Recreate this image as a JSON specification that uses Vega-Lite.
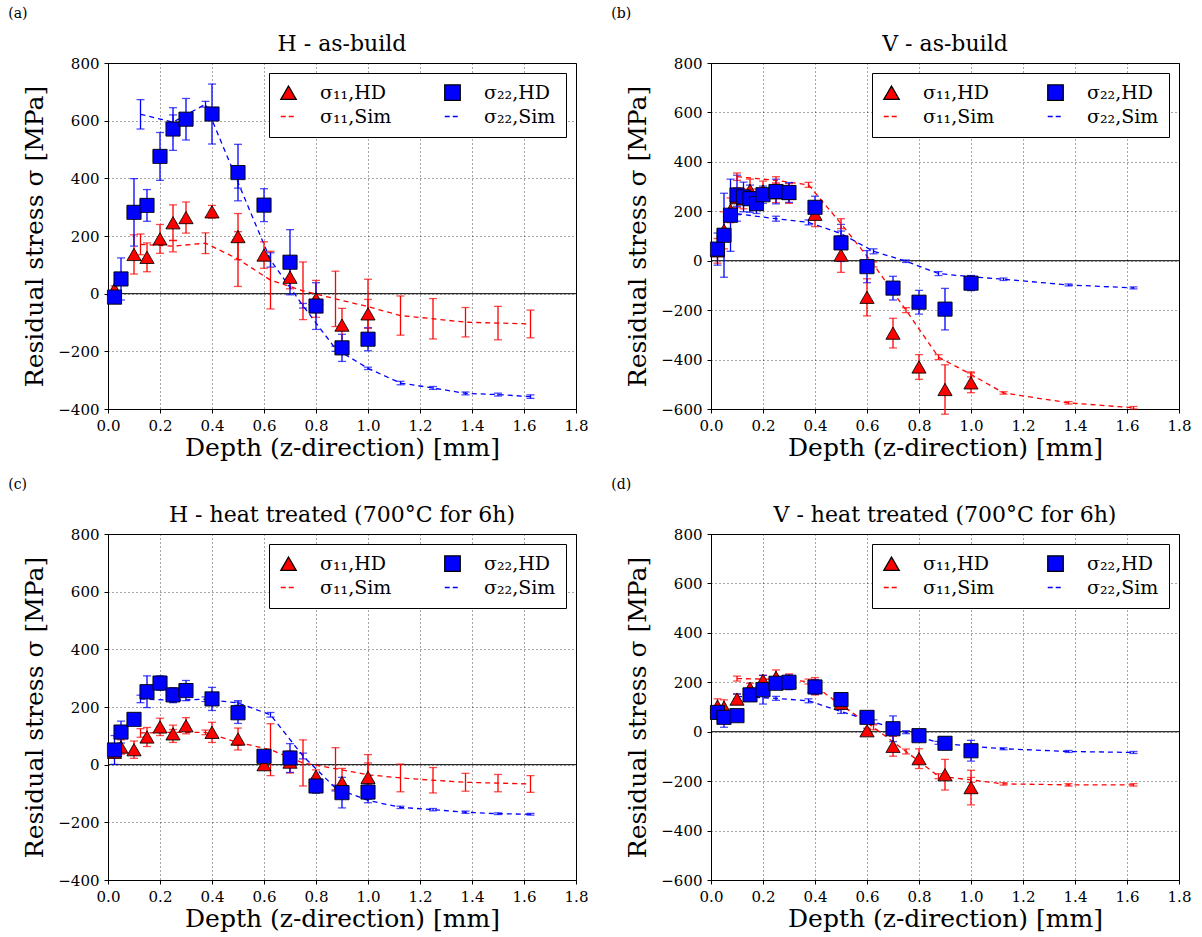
{
"$schema": "https://vega.github.io/schema/vega-lite/v6.json",
"background": "white",
"padding": {"left": 8, "top": 6, "right": 0, "bottom": 0},
"config": {
  "view": {"stroke": "black", "strokeWidth": 1},
  "font": "DejaVu Serif",
  "scale": {"continuousPadding": 0},
  "axis": {"labelFont": "DejaVu Serif", "labelFontSize": 15, "labelColor": "black", "labelFlush": false, "titleFont": "DejaVu Serif", "titleFontSize": 25, "titleFontWeight": "normal", "titleColor": "black", "domainColor": "black", "tickColor": "black", "tickSize": 4, "grid": true, "gridColor": "black", "gridOpacity": 0.7, "gridDash": [1, 3], "gridWidth": 1, "labelPadding": 5},
  "axisX": {"titlePadding": 2},
  "axisY": {"titlePadding": 10},
  "title": {"font": "DejaVu Serif", "fontSize": 22, "fontWeight": "normal", "color": "black"},
  "legend": {"labelFont": "DejaVu Serif", "labelFontSize": 19, "labelColor": "black", "symbolStrokeWidth": 1.3}
},
"resolve": {"scale": {"shape": "independent", "color": "independent", "fill": "independent", "stroke": "independent", "strokeDash": "independent"}, "legend": {"shape": "independent", "color": "independent", "fill": "independent", "stroke": "independent", "strokeDash": "independent"}},
"datasets": {
  "a": [
    {"s":"s11HD","x":0.025,"y":15,"e":12},{"s":"s11HD","x":0.1,"y":136,"e":68},{"s":"s11HD","x":0.15,"y":126,"e":50},{"s":"s11HD","x":0.2,"y":190,"e":50},{"s":"s11HD","x":0.25,"y":246,"e":62},{"s":"s11HD","x":0.3,"y":264,"e":54},{"s":"s11HD","x":0.4,"y":284,"e":22},{"s":"s11HD","x":0.5,"y":198,"e":80},{"s":"s11HD","x":0.6,"y":134,"e":46},{"s":"s11HD","x":0.7,"y":57,"e":40},{"s":"s11HD","x":0.8,"y":-18,"e":64},{"s":"s11HD","x":0.9,"y":-109,"e":58},{"s":"s11HD","x":1.0,"y":-70,"e":50},
    {"s":"s22HD","x":0.025,"y":-12,"e":15},{"s":"s22HD","x":0.05,"y":51,"e":73},{"s":"s22HD","x":0.1,"y":282,"e":117},{"s":"s22HD","x":0.15,"y":306,"e":55},{"s":"s22HD","x":0.2,"y":476,"e":83},{"s":"s22HD","x":0.25,"y":571,"e":74},{"s":"s22HD","x":0.3,"y":605,"e":72},{"s":"s22HD","x":0.4,"y":623,"e":104},{"s":"s22HD","x":0.5,"y":420,"e":98},{"s":"s22HD","x":0.6,"y":307,"e":57},{"s":"s22HD","x":0.7,"y":109,"e":113},{"s":"s22HD","x":0.8,"y":-43,"e":81},{"s":"s22HD","x":0.9,"y":-188,"e":47},{"s":"s22HD","x":1.0,"y":-158,"e":40},
    {"s":"s11Sim","x":0.125,"y":171,"e":36},{"s":"s11Sim","x":0.25,"y":165,"e":20},{"s":"s11Sim","x":0.375,"y":175,"e":36},{"s":"s11Sim","x":0.5,"y":120,"e":95},{"s":"s11Sim","x":0.625,"y":47,"e":100},{"s":"s11Sim","x":0.75,"y":10,"e":100},{"s":"s11Sim","x":0.875,"y":-18,"e":96},{"s":"s11Sim","x":1.0,"y":-45,"e":95},{"s":"s11Sim","x":1.125,"y":-76,"e":68},{"s":"s11Sim","x":1.25,"y":-87,"e":70},{"s":"s11Sim","x":1.375,"y":-99,"e":51},{"s":"s11Sim","x":1.5,"y":-102,"e":58},{"s":"s11Sim","x":1.625,"y":-105,"e":48},
    {"s":"s22Sim","x":0.125,"y":622,"e":51},{"s":"s22Sim","x":0.25,"y":595,"e":25},{"s":"s22Sim","x":0.375,"y":657,"e":10},{"s":"s22Sim","x":0.5,"y":386,"e":20},{"s":"s22Sim","x":0.625,"y":117,"e":25},{"s":"s22Sim","x":0.75,"y":-42,"e":8},{"s":"s22Sim","x":0.875,"y":-191,"e":9},{"s":"s22Sim","x":1.0,"y":-259,"e":4},{"s":"s22Sim","x":1.125,"y":-310,"e":6},{"s":"s22Sim","x":1.25,"y":-327,"e":5},{"s":"s22Sim","x":1.375,"y":-346,"e":5},{"s":"s22Sim","x":1.5,"y":-350,"e":5},{"s":"s22Sim","x":1.625,"y":-357,"e":6}
  ],
  "b": [
    {"s":"s11HD","x":0.025,"y":40,"e":50},{"s":"s11HD","x":0.05,"y":123,"e":75},{"s":"s11HD","x":0.075,"y":204,"e":50},{"s":"s11HD","x":0.1,"y":255,"e":40},{"s":"s11HD","x":0.125,"y":250,"e":40},{"s":"s11HD","x":0.15,"y":285,"e":45},{"s":"s11HD","x":0.175,"y":250,"e":40},{"s":"s11HD","x":0.2,"y":282,"e":40},{"s":"s11HD","x":0.25,"y":275,"e":40},{"s":"s11HD","x":0.3,"y":272,"e":40},{"s":"s11HD","x":0.4,"y":188,"e":50},{"s":"s11HD","x":0.5,"y":23,"e":70},{"s":"s11HD","x":0.6,"y":-148,"e":75},{"s":"s11HD","x":0.7,"y":-293,"e":60},{"s":"s11HD","x":0.8,"y":-430,"e":50},{"s":"s11HD","x":0.9,"y":-521,"e":100},{"s":"s11HD","x":1.0,"y":-494,"e":40},
    {"s":"s22HD","x":0.025,"y":47,"e":65},{"s":"s22HD","x":0.05,"y":103,"e":170},{"s":"s22HD","x":0.075,"y":184,"e":146},{"s":"s22HD","x":0.1,"y":266,"e":80},{"s":"s22HD","x":0.125,"y":258,"e":60},{"s":"s22HD","x":0.15,"y":251,"e":55},{"s":"s22HD","x":0.175,"y":231,"e":40},{"s":"s22HD","x":0.2,"y":267,"e":35},{"s":"s22HD","x":0.25,"y":280,"e":50},{"s":"s22HD","x":0.3,"y":276,"e":40},{"s":"s22HD","x":0.4,"y":216,"e":45},{"s":"s22HD","x":0.5,"y":72,"e":75},{"s":"s22HD","x":0.6,"y":-24,"e":65},{"s":"s22HD","x":0.7,"y":-111,"e":48},{"s":"s22HD","x":0.8,"y":-168,"e":48},{"s":"s22HD","x":0.9,"y":-196,"e":84},{"s":"s22HD","x":1.0,"y":-91,"e":30},
    {"s":"s11Sim","x":0.1,"y":340,"e":15},{"s":"s11Sim","x":0.25,"y":325,"e":15},{"s":"s11Sim","x":0.375,"y":307,"e":10},{"s":"s11Sim","x":0.5,"y":150,"e":20},{"s":"s11Sim","x":0.625,"y":-15,"e":10},{"s":"s11Sim","x":0.75,"y":-200,"e":10},{"s":"s11Sim","x":0.875,"y":-390,"e":10},{"s":"s11Sim","x":1.0,"y":-460,"e":10},{"s":"s11Sim","x":1.125,"y":-535,"e":5},{"s":"s11Sim","x":1.375,"y":-575,"e":5},{"s":"s11Sim","x":1.625,"y":-595,"e":5},
    {"s":"s22Sim","x":0.1,"y":190,"e":30},{"s":"s22Sim","x":0.25,"y":170,"e":10},{"s":"s22Sim","x":0.375,"y":155,"e":10},{"s":"s22Sim","x":0.5,"y":110,"e":10},{"s":"s22Sim","x":0.625,"y":38,"e":10},{"s":"s22Sim","x":0.75,"y":-2,"e":5},{"s":"s22Sim","x":0.875,"y":-52,"e":8},{"s":"s22Sim","x":1.0,"y":-65,"e":5},{"s":"s22Sim","x":1.125,"y":-75,"e":5},{"s":"s22Sim","x":1.375,"y":-98,"e":4},{"s":"s22Sim","x":1.625,"y":-110,"e":4}
  ],
  "c": [
    {"s":"s11HD","x":0.025,"y":43,"e":20},{"s":"s11HD","x":0.05,"y":61,"e":25},{"s":"s11HD","x":0.1,"y":52,"e":30},{"s":"s11HD","x":0.15,"y":96,"e":33},{"s":"s11HD","x":0.2,"y":131,"e":30},{"s":"s11HD","x":0.25,"y":107,"e":30},{"s":"s11HD","x":0.3,"y":135,"e":28},{"s":"s11HD","x":0.4,"y":112,"e":35},{"s":"s11HD","x":0.5,"y":89,"e":38},{"s":"s11HD","x":0.6,"y":0,"e":15},{"s":"s11HD","x":0.7,"y":9,"e":38},{"s":"s11HD","x":0.8,"y":-40,"e":22},{"s":"s11HD","x":0.9,"y":-62,"e":49},{"s":"s11HD","x":1.0,"y":-44,"e":50},
    {"s":"s22HD","x":0.025,"y":51,"e":50},{"s":"s22HD","x":0.05,"y":113,"e":38},{"s":"s22HD","x":0.1,"y":157,"e":12},{"s":"s22HD","x":0.15,"y":253,"e":55},{"s":"s22HD","x":0.2,"y":283,"e":25},{"s":"s22HD","x":0.25,"y":242,"e":25},{"s":"s22HD","x":0.3,"y":257,"e":35},{"s":"s22HD","x":0.4,"y":228,"e":40},{"s":"s22HD","x":0.5,"y":180,"e":37},{"s":"s22HD","x":0.6,"y":29,"e":15},{"s":"s22HD","x":0.7,"y":23,"e":50},{"s":"s22HD","x":0.8,"y":-74,"e":25},{"s":"s22HD","x":0.9,"y":-97,"e":53},{"s":"s22HD","x":1.0,"y":-95,"e":25},
    {"s":"s11Sim","x":0.125,"y":110,"e":15},{"s":"s11Sim","x":0.25,"y":112,"e":10},{"s":"s11Sim","x":0.375,"y":112,"e":8},{"s":"s11Sim","x":0.5,"y":77,"e":10},{"s":"s11Sim","x":0.625,"y":52,"e":90},{"s":"s11Sim","x":0.75,"y":6,"e":80},{"s":"s11Sim","x":0.875,"y":-14,"e":73},{"s":"s11Sim","x":1.0,"y":-35,"e":70},{"s":"s11Sim","x":1.125,"y":-46,"e":48},{"s":"s11Sim","x":1.25,"y":-54,"e":44},{"s":"s11Sim","x":1.375,"y":-61,"e":31},{"s":"s11Sim","x":1.5,"y":-64,"e":30},{"s":"s11Sim","x":1.625,"y":-67,"e":29},
    {"s":"s22Sim","x":0.125,"y":228,"e":13},{"s":"s22Sim","x":0.25,"y":223,"e":8},{"s":"s22Sim","x":0.375,"y":227,"e":8},{"s":"s22Sim","x":0.5,"y":214,"e":8},{"s":"s22Sim","x":0.625,"y":173,"e":8},{"s":"s22Sim","x":0.75,"y":30,"e":10},{"s":"s22Sim","x":0.875,"y":-81,"e":10},{"s":"s22Sim","x":1.0,"y":-124,"e":8},{"s":"s22Sim","x":1.125,"y":-148,"e":4},{"s":"s22Sim","x":1.25,"y":-156,"e":4},{"s":"s22Sim","x":1.375,"y":-165,"e":4},{"s":"s22Sim","x":1.5,"y":-170,"e":3},{"s":"s22Sim","x":1.625,"y":-172,"e":3}
  ],
  "d": [
    {"s":"s11HD","x":0.025,"y":103,"e":30},{"s":"s11HD","x":0.05,"y":99,"e":30},{"s":"s11HD","x":0.1,"y":132,"e":20},{"s":"s11HD","x":0.15,"y":176,"e":20},{"s":"s11HD","x":0.2,"y":208,"e":20},{"s":"s11HD","x":0.25,"y":220,"e":30},{"s":"s11HD","x":0.3,"y":204,"e":30},{"s":"s11HD","x":0.4,"y":184,"e":35},{"s":"s11HD","x":0.5,"y":115,"e":20},{"s":"s11HD","x":0.6,"y":4,"e":10},{"s":"s11HD","x":0.7,"y":-59,"e":40},{"s":"s11HD","x":0.8,"y":-109,"e":40},{"s":"s11HD","x":0.9,"y":-174,"e":62},{"s":"s11HD","x":1.0,"y":-226,"e":70},
    {"s":"s22HD","x":0.025,"y":78,"e":25},{"s":"s22HD","x":0.05,"y":58,"e":40},{"s":"s22HD","x":0.1,"y":65,"e":15},{"s":"s22HD","x":0.15,"y":149,"e":20},{"s":"s22HD","x":0.2,"y":170,"e":58},{"s":"s22HD","x":0.25,"y":196,"e":20},{"s":"s22HD","x":0.3,"y":200,"e":30},{"s":"s22HD","x":0.4,"y":181,"e":30},{"s":"s22HD","x":0.5,"y":130,"e":25},{"s":"s22HD","x":0.6,"y":58,"e":10},{"s":"s22HD","x":0.7,"y":12,"e":52},{"s":"s22HD","x":0.8,"y":-16,"e":8},{"s":"s22HD","x":0.9,"y":-47,"e":25},{"s":"s22HD","x":1.0,"y":-77,"e":42},
    {"s":"s11Sim","x":0.1,"y":215,"e":10},{"s":"s11Sim","x":0.25,"y":212,"e":10},{"s":"s11Sim","x":0.375,"y":203,"e":10},{"s":"s11Sim","x":0.5,"y":108,"e":10},{"s":"s11Sim","x":0.625,"y":18,"e":10},{"s":"s11Sim","x":0.75,"y":-80,"e":10},{"s":"s11Sim","x":0.875,"y":-180,"e":10},{"s":"s11Sim","x":1.0,"y":-195,"e":10},{"s":"s11Sim","x":1.125,"y":-211,"e":5},{"s":"s11Sim","x":1.375,"y":-215,"e":5},{"s":"s11Sim","x":1.625,"y":-215,"e":5},
    {"s":"s22Sim","x":0.1,"y":143,"e":10},{"s":"s22Sim","x":0.25,"y":135,"e":8},{"s":"s22Sim","x":0.375,"y":125,"e":8},{"s":"s22Sim","x":0.5,"y":82,"e":8},{"s":"s22Sim","x":0.625,"y":40,"e":8},{"s":"s22Sim","x":0.75,"y":-2,"e":6},{"s":"s22Sim","x":0.875,"y":-45,"e":6},{"s":"s22Sim","x":1.0,"y":-59,"e":5},{"s":"s22Sim","x":1.125,"y":-69,"e":4},{"s":"s22Sim","x":1.375,"y":-80,"e":4},{"s":"s22Sim","x":1.625,"y":-84,"e":4}
  ]
},
"vconcat": [
 {"resolve": {"scale": {"shape": "independent", "color": "independent", "fill": "independent", "stroke": "independent", "strokeDash": "independent"}, "legend": {"shape": "independent", "color": "independent", "fill": "independent", "stroke": "independent", "strokeDash": "independent"}},
  "hconcat": [
  {"title": {"text": "(a)", "anchor": "start", "fontSize": 14, "dx": -14, "offset": 12},
   "resolve": {"scale": {"shape": "independent", "color": "independent", "fill": "independent", "stroke": "independent", "strokeDash": "independent"}, "legend": {"shape": "independent", "color": "independent", "fill": "independent", "stroke": "independent", "strokeDash": "independent"}},
   "vconcat": [{
    "title": {"text": "H - as-build", "frame": "group", "offset": 0},
    "width": 468, "height": 346,
    "data": {"name": "a"},
    "layer": [
     {"data": {"values": [{"z": 0}]}, "mark": {"type": "rule", "color": "black", "strokeWidth": 1}, "encoding": {"y": {"datum": 0, "type": "quantitative", "scale": {"domain": [-400, 800], "nice": false, "zero": false, "padding": 0}, "axis": {"title": "Residual stress σ [MPa]", "values": [-400,-200,0,200,400,600,800], "grid": true}}}},
     {"transform": [{"filter": "indexof(datum.s,'Sim')>=0"}], "mark": {"type": "line", "strokeDash": [5, 4], "strokeWidth": 1.3},
      "encoding": {"x": {"field": "x", "type": "quantitative", "scale": {"domain": [0, 1.8], "nice": false, "zero": false, "padding": 0}, "axis": {"title": "Depth (z-direction) [mm]", "values": [0,0.2,0.4,0.6,0.8,1,1.2,1.4,1.6,1.8], "format": ".1f", "grid": true, "labelFlush": false}},
       "y": {"field": "y", "type": "quantitative", "scale": {"domain": [-400, 800], "nice": false, "zero": false, "padding": 0}, "axis": {"title": "Residual stress σ [MPa]", "values": [-400,-200,0,200,400,600,800], "grid": true}},
       "color": {"field": "s", "type": "nominal", "scale": {"domain": ["s11HD","s22HD","s11Sim","s22Sim"], "range": ["#ff0000","#0000ff","#ff0000","#0000ff"]}, "legend": null}}},
     {"mark": {"type": "errorbar", "ticks": {"size": 8, "thickness": 1.3}, "thickness": 1.3},
      "encoding": {"x": {"field": "x", "type": "quantitative", "title": "Depth (z-direction) [mm]", "scale": {"domain": [0, 1.8], "nice": false, "zero": false, "padding": 0}},
       "y": {"field": "y", "type": "quantitative", "title": "Residual stress σ [MPa]"},
       "yError": {"field": "e"},
       "color": {"field": "s", "type": "nominal", "legend": null}}},
     {"transform": [{"filter": "indexof(datum.s,'HD')>=0"}], "mark": {"type": "point", "filled": true, "opacity": 1, "strokeWidth": 1, "size": 200},
      "encoding": {"x": {"field": "x", "type": "quantitative", "scale": {"domain": [0, 1.8], "nice": false, "zero": false, "padding": 0}}, "y": {"field": "y", "type": "quantitative"},
       "fill": {"field": "s", "type": "nominal", "scale": {"domain": ["s11HD","s11Sim","s22HD","s22Sim"], "range": ["#ff0000","transparent","#0000ff","transparent"]}, "legend": {"title": null, "orient": "top-right"}},
       "stroke": {"field": "s", "type": "nominal", "scale": {"domain": ["s11HD","s11Sim","s22HD","s22Sim"], "range": ["#000000","#ff0000","#000000","#0000ff"]}, "legend": {"title": null, "orient": "top-right"}},
       "strokeDash": {"field": "s", "type": "nominal", "scale": {"domain": ["s11HD","s11Sim","s22HD","s22Sim"], "range": [[1,0],[5,3],[1,0],[5,3]]}, "legend": {"title": null, "orient": "top-right"}},
       "shape": {"field": "s", "type": "nominal", "scale": {"domain": ["s11HD","s11Sim","s22HD","s22Sim"], "range": ["triangle-up","stroke","square","stroke"]}, "legend": {"title": null, "orient": "top-right", "offset": 10, "columns": 2, "fillColor": "white", "strokeColor": "black", "padding": 10, "labelOffset": 22, "columnPadding": 50, "rowPadding": 4, "symbolSize": 240, "labelExpr": "datum.label=='s11HD'?'σ₁₁,HD':datum.label=='s22HD'?'σ₂₂,HD':datum.label=='s11Sim'?'σ₁₁,Sim':'σ₂₂,Sim'"}}}}
    ]
   }]
  },
  {"title": {"text": "(b)", "anchor": "start", "fontSize": 14, "dx": -14, "offset": 12},
   "resolve": {"scale": {"shape": "independent", "color": "independent", "fill": "independent", "stroke": "independent", "strokeDash": "independent"}, "legend": {"shape": "independent", "color": "independent", "fill": "independent", "stroke": "independent", "strokeDash": "independent"}},
   "vconcat": [{
    "title": {"text": "V - as-build", "frame": "group", "offset": 0},
    "width": 468, "height": 346,
    "data": {"name": "b"},
    "layer": [
     {"data": {"values": [{"z": 0}]}, "mark": {"type": "rule", "color": "black", "strokeWidth": 1}, "encoding": {"y": {"datum": 0, "type": "quantitative", "scale": {"domain": [-600, 800], "nice": false, "zero": false, "padding": 0}, "axis": {"title": "Residual stress σ [MPa]", "values": [-600,-400,-200,0,200,400,600,800], "grid": true}}}},
     {"transform": [{"filter": "indexof(datum.s,'Sim')>=0"}], "mark": {"type": "line", "strokeDash": [5, 4], "strokeWidth": 1.3},
      "encoding": {"x": {"field": "x", "type": "quantitative", "scale": {"domain": [0, 1.8], "nice": false, "zero": false, "padding": 0}, "axis": {"title": "Depth (z-direction) [mm]", "values": [0,0.2,0.4,0.6,0.8,1,1.2,1.4,1.6,1.8], "format": ".1f", "grid": true, "labelFlush": false}},
       "y": {"field": "y", "type": "quantitative", "scale": {"domain": [-600, 800], "nice": false, "zero": false, "padding": 0}, "axis": {"title": "Residual stress σ [MPa]", "values": [-600,-400,-200,0,200,400,600,800], "grid": true}},
       "color": {"field": "s", "type": "nominal", "scale": {"domain": ["s11HD","s22HD","s11Sim","s22Sim"], "range": ["#ff0000","#0000ff","#ff0000","#0000ff"]}, "legend": null}}},
     {"mark": {"type": "errorbar", "ticks": {"size": 8, "thickness": 1.3}, "thickness": 1.3},
      "encoding": {"x": {"field": "x", "type": "quantitative", "title": "Depth (z-direction) [mm]", "scale": {"domain": [0, 1.8], "nice": false, "zero": false, "padding": 0}},
       "y": {"field": "y", "type": "quantitative", "title": "Residual stress σ [MPa]"},
       "yError": {"field": "e"},
       "color": {"field": "s", "type": "nominal", "legend": null}}},
     {"transform": [{"filter": "indexof(datum.s,'HD')>=0"}], "mark": {"type": "point", "filled": true, "opacity": 1, "strokeWidth": 1, "size": 200},
      "encoding": {"x": {"field": "x", "type": "quantitative", "scale": {"domain": [0, 1.8], "nice": false, "zero": false, "padding": 0}}, "y": {"field": "y", "type": "quantitative"},
       "fill": {"field": "s", "type": "nominal", "scale": {"domain": ["s11HD","s11Sim","s22HD","s22Sim"], "range": ["#ff0000","transparent","#0000ff","transparent"]}, "legend": {"title": null, "orient": "top-right"}},
       "stroke": {"field": "s", "type": "nominal", "scale": {"domain": ["s11HD","s11Sim","s22HD","s22Sim"], "range": ["#000000","#ff0000","#000000","#0000ff"]}, "legend": {"title": null, "orient": "top-right"}},
       "strokeDash": {"field": "s", "type": "nominal", "scale": {"domain": ["s11HD","s11Sim","s22HD","s22Sim"], "range": [[1,0],[5,3],[1,0],[5,3]]}, "legend": {"title": null, "orient": "top-right"}},
       "shape": {"field": "s", "type": "nominal", "scale": {"domain": ["s11HD","s11Sim","s22HD","s22Sim"], "range": ["triangle-up","stroke","square","stroke"]}, "legend": {"title": null, "orient": "top-right", "offset": 10, "columns": 2, "fillColor": "white", "strokeColor": "black", "padding": 10, "labelOffset": 22, "columnPadding": 50, "rowPadding": 4, "symbolSize": 240, "labelExpr": "datum.label=='s11HD'?'σ₁₁,HD':datum.label=='s22HD'?'σ₂₂,HD':datum.label=='s11Sim'?'σ₁₁,Sim':'σ₂₂,Sim'"}}}}
    ]
   }]
  }
 ], "spacing": 22},
 {"resolve": {"scale": {"shape": "independent", "color": "independent", "fill": "independent", "stroke": "independent", "strokeDash": "independent"}, "legend": {"shape": "independent", "color": "independent", "fill": "independent", "stroke": "independent", "strokeDash": "independent"}},
  "hconcat": [
  {"title": {"text": "(c)", "anchor": "start", "fontSize": 14, "dx": -14, "offset": 12},
   "resolve": {"scale": {"shape": "independent", "color": "independent", "fill": "independent", "stroke": "independent", "strokeDash": "independent"}, "legend": {"shape": "independent", "color": "independent", "fill": "independent", "stroke": "independent", "strokeDash": "independent"}},
   "vconcat": [{
    "title": {"text": "H - heat treated (700°C for 6h)", "frame": "group", "offset": 0},
    "width": 468, "height": 346,
    "data": {"name": "c"},
    "layer": [
     {"data": {"values": [{"z": 0}]}, "mark": {"type": "rule", "color": "black", "strokeWidth": 1}, "encoding": {"y": {"datum": 0, "type": "quantitative", "scale": {"domain": [-400, 800], "nice": false, "zero": false, "padding": 0}, "axis": {"title": "Residual stress σ [MPa]", "values": [-400,-200,0,200,400,600,800], "grid": true}}}},
     {"transform": [{"filter": "indexof(datum.s,'Sim')>=0"}], "mark": {"type": "line", "strokeDash": [5, 4], "strokeWidth": 1.3},
      "encoding": {"x": {"field": "x", "type": "quantitative", "scale": {"domain": [0, 1.8], "nice": false, "zero": false, "padding": 0}, "axis": {"title": "Depth (z-direction) [mm]", "values": [0,0.2,0.4,0.6,0.8,1,1.2,1.4,1.6,1.8], "format": ".1f", "grid": true, "labelFlush": false}},
       "y": {"field": "y", "type": "quantitative", "scale": {"domain": [-400, 800], "nice": false, "zero": false, "padding": 0}, "axis": {"title": "Residual stress σ [MPa]", "values": [-400,-200,0,200,400,600,800], "grid": true}},
       "color": {"field": "s", "type": "nominal", "scale": {"domain": ["s11HD","s22HD","s11Sim","s22Sim"], "range": ["#ff0000","#0000ff","#ff0000","#0000ff"]}, "legend": null}}},
     {"mark": {"type": "errorbar", "ticks": {"size": 8, "thickness": 1.3}, "thickness": 1.3},
      "encoding": {"x": {"field": "x", "type": "quantitative", "title": "Depth (z-direction) [mm]", "scale": {"domain": [0, 1.8], "nice": false, "zero": false, "padding": 0}},
       "y": {"field": "y", "type": "quantitative", "title": "Residual stress σ [MPa]"},
       "yError": {"field": "e"},
       "color": {"field": "s", "type": "nominal", "legend": null}}},
     {"transform": [{"filter": "indexof(datum.s,'HD')>=0"}], "mark": {"type": "point", "filled": true, "opacity": 1, "strokeWidth": 1, "size": 200},
      "encoding": {"x": {"field": "x", "type": "quantitative", "scale": {"domain": [0, 1.8], "nice": false, "zero": false, "padding": 0}}, "y": {"field": "y", "type": "quantitative"},
       "fill": {"field": "s", "type": "nominal", "scale": {"domain": ["s11HD","s11Sim","s22HD","s22Sim"], "range": ["#ff0000","transparent","#0000ff","transparent"]}, "legend": {"title": null, "orient": "top-right"}},
       "stroke": {"field": "s", "type": "nominal", "scale": {"domain": ["s11HD","s11Sim","s22HD","s22Sim"], "range": ["#000000","#ff0000","#000000","#0000ff"]}, "legend": {"title": null, "orient": "top-right"}},
       "strokeDash": {"field": "s", "type": "nominal", "scale": {"domain": ["s11HD","s11Sim","s22HD","s22Sim"], "range": [[1,0],[5,3],[1,0],[5,3]]}, "legend": {"title": null, "orient": "top-right"}},
       "shape": {"field": "s", "type": "nominal", "scale": {"domain": ["s11HD","s11Sim","s22HD","s22Sim"], "range": ["triangle-up","stroke","square","stroke"]}, "legend": {"title": null, "orient": "top-right", "offset": 10, "columns": 2, "fillColor": "white", "strokeColor": "black", "padding": 10, "labelOffset": 22, "columnPadding": 50, "rowPadding": 4, "symbolSize": 240, "labelExpr": "datum.label=='s11HD'?'σ₁₁,HD':datum.label=='s22HD'?'σ₂₂,HD':datum.label=='s11Sim'?'σ₁₁,Sim':'σ₂₂,Sim'"}}}}
    ]
   }]
  },
  {"title": {"text": "(d)", "anchor": "start", "fontSize": 14, "dx": -14, "offset": 12},
   "resolve": {"scale": {"shape": "independent", "color": "independent", "fill": "independent", "stroke": "independent", "strokeDash": "independent"}, "legend": {"shape": "independent", "color": "independent", "fill": "independent", "stroke": "independent", "strokeDash": "independent"}},
   "vconcat": [{
    "title": {"text": "V - heat treated (700°C for 6h)", "frame": "group", "offset": 0},
    "width": 468, "height": 346,
    "data": {"name": "d"},
    "layer": [
     {"data": {"values": [{"z": 0}]}, "mark": {"type": "rule", "color": "black", "strokeWidth": 1}, "encoding": {"y": {"datum": 0, "type": "quantitative", "scale": {"domain": [-600, 800], "nice": false, "zero": false, "padding": 0}, "axis": {"title": "Residual stress σ [MPa]", "values": [-600,-400,-200,0,200,400,600,800], "grid": true}}}},
     {"transform": [{"filter": "indexof(datum.s,'Sim')>=0"}], "mark": {"type": "line", "strokeDash": [5, 4], "strokeWidth": 1.3},
      "encoding": {"x": {"field": "x", "type": "quantitative", "scale": {"domain": [0, 1.8], "nice": false, "zero": false, "padding": 0}, "axis": {"title": "Depth (z-direction) [mm]", "values": [0,0.2,0.4,0.6,0.8,1,1.2,1.4,1.6,1.8], "format": ".1f", "grid": true, "labelFlush": false}},
       "y": {"field": "y", "type": "quantitative", "scale": {"domain": [-600, 800], "nice": false, "zero": false, "padding": 0}, "axis": {"title": "Residual stress σ [MPa]", "values": [-600,-400,-200,0,200,400,600,800], "grid": true}},
       "color": {"field": "s", "type": "nominal", "scale": {"domain": ["s11HD","s22HD","s11Sim","s22Sim"], "range": ["#ff0000","#0000ff","#ff0000","#0000ff"]}, "legend": null}}},
     {"mark": {"type": "errorbar", "ticks": {"size": 8, "thickness": 1.3}, "thickness": 1.3},
      "encoding": {"x": {"field": "x", "type": "quantitative", "title": "Depth (z-direction) [mm]", "scale": {"domain": [0, 1.8], "nice": false, "zero": false, "padding": 0}},
       "y": {"field": "y", "type": "quantitative", "title": "Residual stress σ [MPa]"},
       "yError": {"field": "e"},
       "color": {"field": "s", "type": "nominal", "legend": null}}},
     {"transform": [{"filter": "indexof(datum.s,'HD')>=0"}], "mark": {"type": "point", "filled": true, "opacity": 1, "strokeWidth": 1, "size": 200},
      "encoding": {"x": {"field": "x", "type": "quantitative", "scale": {"domain": [0, 1.8], "nice": false, "zero": false, "padding": 0}}, "y": {"field": "y", "type": "quantitative"},
       "fill": {"field": "s", "type": "nominal", "scale": {"domain": ["s11HD","s11Sim","s22HD","s22Sim"], "range": ["#ff0000","transparent","#0000ff","transparent"]}, "legend": {"title": null, "orient": "top-right"}},
       "stroke": {"field": "s", "type": "nominal", "scale": {"domain": ["s11HD","s11Sim","s22HD","s22Sim"], "range": ["#000000","#ff0000","#000000","#0000ff"]}, "legend": {"title": null, "orient": "top-right"}},
       "strokeDash": {"field": "s", "type": "nominal", "scale": {"domain": ["s11HD","s11Sim","s22HD","s22Sim"], "range": [[1,0],[5,3],[1,0],[5,3]]}, "legend": {"title": null, "orient": "top-right"}},
       "shape": {"field": "s", "type": "nominal", "scale": {"domain": ["s11HD","s11Sim","s22HD","s22Sim"], "range": ["triangle-up","stroke","square","stroke"]}, "legend": {"title": null, "orient": "top-right", "offset": 10, "columns": 2, "fillColor": "white", "strokeColor": "black", "padding": 10, "labelOffset": 22, "columnPadding": 50, "rowPadding": 4, "symbolSize": 240, "labelExpr": "datum.label=='s11HD'?'σ₁₁,HD':datum.label=='s22HD'?'σ₂₂,HD':datum.label=='s11Sim'?'σ₁₁,Sim':'σ₂₂,Sim'"}}}}
    ]
   }]
  }
 ], "spacing": 22}
],
"spacing": 16
}
